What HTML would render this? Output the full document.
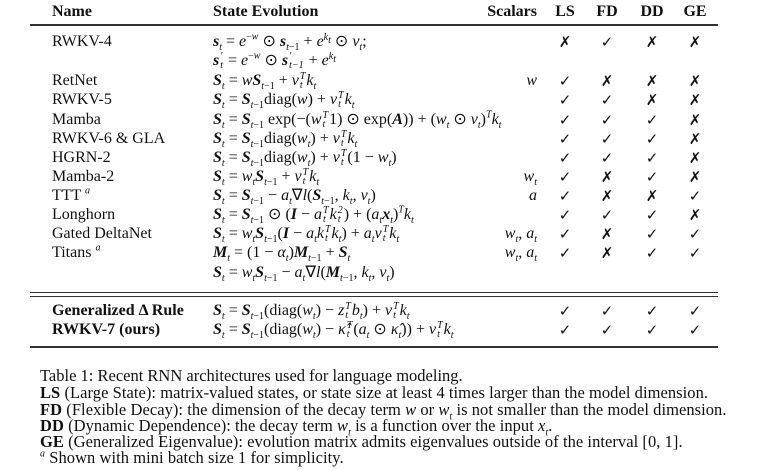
<!DOCTYPE html>
<html><head><meta charset="utf-8"><style>
body{margin:0;width:780px;height:470px;background:#fff;position:relative;overflow:hidden;font-family:"Liberation Serif",serif;font-size:16px;color:#111}
.r{position:absolute;line-height:20px;white-space:nowrap}
.n{left:52px}.e{left:213px}.s{right:243px;text-align:right}
.c{width:30px;text-align:center;font-family:"DejaVu Sans",sans-serif;font-size:15px}
.h{font-weight:bold}
i{font-style:italic}
b i,.B{font-weight:bold;font-style:italic}
sub,sup{font-size:10px;line-height:0}
.st{display:inline-block;vertical-align:middle;line-height:9px;font-size:10px;font-style:italic;margin:0 1px;text-align:left}
.rule{position:absolute;left:30px;width:688px;background:#333}
.cap{position:absolute;left:40px;font-size:16.5px;line-height:17px;white-space:nowrap;letter-spacing:0.05px}
</style></head><body>
<div class="r h" style="left:52px;top:2px">Name</div>
<div class="r h" style="left:213px;top:2px">State Evolution</div>
<div class="r h" style="right:243px;top:2px">Scalars</div>
<div class="r h c" style="left:550px;top:2px;font-family:'Liberation Serif',serif;font-size:16px">LS</div>
<div class="r h c" style="left:592px;top:2px;font-family:'Liberation Serif',serif;font-size:16px">FD</div>
<div class="r h c" style="left:637px;top:2px;font-family:'Liberation Serif',serif;font-size:16px">DD</div>
<div class="r h c" style="left:680px;top:2px;font-family:'Liberation Serif',serif;font-size:16px">GE</div>
<div class="rule" style="top:24px;height:1.5px"></div>

<div class="r n" style="top:32px">RWKV-4</div>
<div class="r e" style="top:32px"><span class="B">s</span><sub><i>t</i></sub> = <i>e</i><sup>−<i>w</i></sup> ⊙ <span class="B">s</span><sub><i>t</i>−1</sub> + <i>e</i><sup><i>k<sub>t</sub></i></sup> ⊙ <i>v<sub>t</sub></i>;</div>
<div class="r e" style="top:51px"><span class="B">s</span><span class="st">′<br>t</span> = <i>e</i><sup>−<i>w</i></sup> ⊙ <span class="B">s</span><span class="st">′<br><i>t</i>−1</span> + <i>e</i><sup><i>k<sub>t</sub></i></sup></div>
<div class="r n" style="top:71px">RetNet</div>
<div class="r e" style="top:71px"><span class="B">S</span><sub><i>t</i></sub> = <i>w</i><span class="B">S</span><sub><i>t</i>−1</sub> + <i>v</i><span class="st">T<br>t</span><i>k<sub>t</sub></i></div>
<div class="r n" style="top:90px">RWKV-5</div>
<div class="r e" style="top:90px"><span class="B">S</span><sub><i>t</i></sub> = <span class="B">S</span><sub><i>t</i>−1</sub>diag(<i>w</i>) + <i>v</i><span class="st">T<br>t</span><i>k<sub>t</sub></i></div>
<div class="r n" style="top:110px">Mamba</div>
<div class="r e" style="top:110px"><span class="B">S</span><sub><i>t</i></sub> = <span class="B">S</span><sub><i>t</i>−1</sub> exp(−(<i>w</i><span class="st">T<br>t</span>1) ⊙ exp(<span class="B">A</span>)) + (<i>w<sub>t</sub></i> ⊙ <i>v<sub>t</sub></i>)<sup><i>T</i></sup><i>k<sub>t</sub></i></div>
<div class="r n" style="top:129px">RWKV-6 &amp; GLA</div>
<div class="r e" style="top:129px"><span class="B">S</span><sub><i>t</i></sub> = <span class="B">S</span><sub><i>t</i>−1</sub>diag(<i>w<sub>t</sub></i>) + <i>v</i><span class="st">T<br>t</span><i>k<sub>t</sub></i></div>
<div class="r n" style="top:148px">HGRN-2</div>
<div class="r e" style="top:148px"><span class="B">S</span><sub><i>t</i></sub> = <span class="B">S</span><sub><i>t</i>−1</sub>diag(<i>w<sub>t</sub></i>) + <i>v</i><span class="st">T<br>t</span>(1 − <i>w<sub>t</sub></i>)</div>
<div class="r n" style="top:167px">Mamba-2</div>
<div class="r e" style="top:167px"><span class="B">S</span><sub><i>t</i></sub> = <i>w<sub>t</sub></i><span class="B">S</span><sub><i>t</i>−1</sub> + <i>v</i><span class="st">T<br>t</span><i>k<sub>t</sub></i></div>
<div class="r n" style="top:186px">TTT <sup><i>a</i></sup></div>
<div class="r e" style="top:186px"><span class="B">S</span><sub><i>t</i></sub> = <span class="B">S</span><sub><i>t</i>−1</sub> − <i>a<sub>t</sub></i>∇<i>l</i>(<span class="B">S</span><sub><i>t</i>−1</sub>, <i>k<sub>t</sub></i>, <i>v<sub>t</sub></i>)</div>
<div class="r n" style="top:205px">Longhorn</div>
<div class="r e" style="top:205px"><span class="B">S</span><sub><i>t</i></sub> = <span class="B">S</span><sub><i>t</i>−1</sub> ⊙ (<span class="B">I</span> − <i>a</i><span class="st">T<br>t</span><i>k</i><span class="st">2<br>t</span>) + (<i>a<sub>t</sub></i><span class="B">x</span><sub><i>t</i></sub>)<sup><i>T</i></sup><i>k<sub>t</sub></i></div>
<div class="r n" style="top:224px">Gated DeltaNet</div>
<div class="r e" style="top:224px"><span class="B">S</span><sub><i>t</i></sub> = <i>w<sub>t</sub></i><span class="B">S</span><sub><i>t</i>−1</sub>(<span class="B">I</span> − <i>a<sub>t</sub>k</i><span class="st">T<br>t</span><i>k<sub>t</sub></i>) + <i>a<sub>t</sub>v</i><span class="st">T<br>t</span><i>k<sub>t</sub></i></div>
<div class="r n" style="top:243px">Titans <sup><i>a</i></sup></div>
<div class="r e" style="top:243px"><span class="B">M</span><sub><i>t</i></sub> = (1 − <i>α<sub>t</sub></i>)<span class="B">M</span><sub><i>t</i>−1</sub> + <span class="B">S</span><sub><i>t</i></sub></div>
<div class="r e" style="top:263px"><span class="B">S</span><sub><i>t</i></sub> = <i>w<sub>t</sub></i><span class="B">S</span><sub><i>t</i>−1</sub> − <i>a<sub>t</sub></i>∇<i>l</i>(<span class="B">M</span><sub><i>t</i>−1</sub>, <i>k<sub>t</sub></i>, <i>v<sub>t</sub></i>)</div>

<div class="rule" style="top:292px;height:1px"></div>
<div class="rule" style="top:296px;height:1px"></div>
<div class="r n h" style="top:301px">Generalized Δ Rule</div>
<div class="r e" style="top:301px"><span class="B">S</span><sub><i>t</i></sub> = <span class="B">S</span><sub><i>t</i>−1</sub>(diag(<i>w<sub>t</sub></i>) − <i>z</i><span class="st">T<br>t</span><i>b<sub>t</sub></i>) + <i>v</i><span class="st">T<br>t</span><i>k<sub>t</sub></i></div>
<div class="r n h" style="top:320px">RWKV-7 (ours)</div>
<div class="r e" style="top:320px"><span class="B">S</span><sub><i>t</i></sub> = <span class="B">S</span><sub><i>t</i>−1</sub>(diag(<i>w<sub>t</sub></i>) − <i>κ̂</i><span class="st">T<br>t</span>(<i>a<sub>t</sub></i> ⊙ <i>κ̂<sub>t</sub></i>)) + <i>v</i><span class="st">T<br>t</span><i>k<sub>t</sub></i></div>
<div class="rule" style="top:346px;height:1.5px"></div>

<div class="r s" style="top:71px"><i>w</i></div>
<div class="r s" style="top:167px"><i>w<sub>t</sub></i></div>
<div class="r s" style="top:186px"><i>a</i></div>
<div class="r s" style="top:224px"><i>w<sub>t</sub></i>, <i>a<sub>t</sub></i></div>
<div class="r s" style="top:243px"><i>w<sub>t</sub></i>, <i>a<sub>t</sub></i></div>

<div id="marks"></div>
<script>
var rows=[[32,"x✓xx"],[71,"✓xxx"],[90,"✓✓xx"],[110,"✓✓✓x"],[129,"✓✓✓x"],[148,"✓✓✓x"],[167,"✓x✓x"],[186,"✓xx✓"],[205,"✓✓✓x"],[224,"✓x✓✓"],[243,"✓x✓✓"],[301,"✓✓✓✓"],[320,"✓✓✓✓"]];
var xs=[550,592,637,680],h="";
rows.forEach(function(r){for(var i=0;i<4;i++){var c=r[1][i];h+='<div class="r c" style="left:'+xs[i]+'px;top:'+r[0]+'px">'+(c=="x"?"✗":"✓")+'</div>';}});
document.getElementById("marks").innerHTML=h;
</script>

<div class="cap" style="top:367px;letter-spacing:0">Table 1: Recent RNN architectures used for language modeling.</div>
<div class="cap" style="top:384px"><b>LS</b> (Large State): matrix-valued states, or state size at least 4 times larger than the model dimension.</div>
<div class="cap" style="top:401px"><b>FD</b> (Flexible Decay): the dimension of the decay term <i>w</i> or <i>w<sub>t</sub></i> is not smaller than the model dimension.</div>
<div class="cap" style="top:417px"><b>DD</b> (Dynamic Dependence): the decay term <i>w<sub>t</sub></i> is a function over the input <i>x<sub>t</sub></i>.</div>
<div class="cap" style="top:433px"><b>GE</b> (Generalized Eigenvalue): evolution matrix admits eigenvalues outside of the interval [0, 1].</div>
<div class="cap" style="top:449px"><sup><i>a</i></sup> Shown with mini batch size 1 for simplicity.</div>
</body></html>
